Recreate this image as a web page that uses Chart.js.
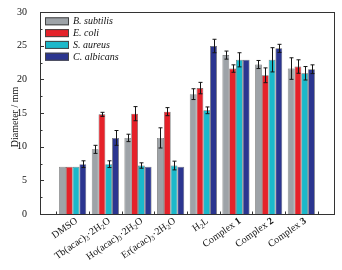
<!DOCTYPE html>
<html>
<head>
<meta charset="utf-8">
<script src="https://cdn.jsdelivr.net/npm/chart.js@4"></script>
<style>
html,body{margin:0;padding:0;background:#fff;}
#wrap{width:342px;height:270px;position:relative;}
</style>
</head>
<body>
<div id="wrap"><canvas id="c" width="342" height="270"></canvas></div>
<script>
// categories (blank entries give the extra space at both ends of the axis)
const categories = ['', 'DMSO', 'Tb(acac)\u2083\u00b72H\u2082O', 'Ho(acac)\u2083\u00b72H\u2082O', 'Er(acac)\u2083\u00b72H\u2082O', 'H\u2082L', 'Complex 1', 'Complex 2', 'Complex 3', ''];
const seriesNames = ['B. subtilis', 'E. coli', 'S. aureus', 'C. albicans'];
const bSubtilis  = [null, 7.0, 9.6, 11.3, 11.3, 17.8, 23.6, 22.2, 21.6, null];
const eColi      = [null, 7.0, 14.8, 14.9, 15.2, 18.7, 21.6, 20.6, 21.9, null];
const sAureus    = [null, 7.0, 7.4, 7.2, 7.2, 15.4, 22.9, 22.9, 20.9, null];
const cAlbicans  = [null, 7.4, 11.3, 7.0, 7.0, 24.95, 22.9, 24.6, 21.5, null];
const bSubtilisErr = [0, 0, 0.6, 0.55, 1.5, 0.8, 0.6, 0.6, 1.6, 0];
const eColiErr     = [0, 0, 0.3, 1.05, 0.6, 0.85, 0.55, 1.1, 1.0, 0];
const sAureusErr   = [0, 0, 0.5, 0.4, 0.65, 0.5, 1.05, 1.8, 1.0, 0];
const cAlbicansErr = [0, 0.5, 1.1, 0, 0, 1.0, 0, 0.6, 0.65, 0];
const yTicks = [0, 5, 10, 15, 20, 25, 30];
const yTitle = 'Diameter / mm';
const colors = ['#9ea3a8', '#e5222a', '#1bb8ca', '#2b3590'];

const values = [bSubtilis, eColi, sAureus, cAlbicans];
const errors = [bSubtilisErr, eColiErr, sAureusErr, cAlbicansErr];

const serif = "'Liberation Serif', 'DejaVu Serif', serif";
const SUB = { '\u2082': '2', '\u2083': '3' };

// split label into runs: normal / subscript / bold digit
function runs(label) {
  const out = [];
  const m = label.match(/^(Complex )(\d)$/);
  if (m) { out.push({ t: m[1], k: 'n' }); out.push({ t: m[2], k: 'b' }); return out; }
  for (const ch of label) {
    const k = SUB[ch] ? 's' : 'n';
    const t = SUB[ch] || ch;
    if (out.length && out[out.length - 1].k === k) out[out.length - 1].t += t;
    else out.push({ t, k });
  }
  return out;
}
function fontFor(k) {
  if (k === 's') return '7px ' + serif;
  if (k === 'b') return 'bold 10px ' + serif;
  return '10px ' + serif;
}

const framePlugin = {
  id: 'frame',
  afterDraw(chart) {
    const ctx = chart.ctx, a = chart.chartArea;
    const ys = chart.scales.y, xs = chart.scales.x;
    ctx.save();
    ctx.strokeStyle = '#333';
    ctx.lineWidth = 1;
    ctx.strokeRect(Math.round(a.left) + 0.5, Math.round(a.top) + 0.5, Math.round(a.right - a.left), Math.round(a.bottom - a.top));
    ctx.beginPath();
    for (let i = 0; i < yTicks.length; i++) {
      const py = Math.round(ys.getPixelForValue(yTicks[i])) + 0.5;
      ctx.moveTo(a.left, py); ctx.lineTo(a.left + 4, py);
      if (i < yTicks.length - 1) {
        const pm = Math.round(ys.getPixelForValue((yTicks[i] + yTicks[i + 1]) / 2)) + 0.5;
        ctx.moveTo(a.left, pm); ctx.lineTo(a.left + 2.5, pm);
      }
    }
    for (let i = 0; i < categories.length - 1; i++) {
      const px = Math.round((xs.getPixelForValue(i) + xs.getPixelForValue(i + 1)) / 2) + 0.5;
      ctx.moveTo(px, a.bottom); ctx.lineTo(px, a.bottom - 2.5);
    }
    ctx.stroke();

    // x category labels, rotated
    const ang = 35 * Math.PI / 180;
    ctx.fillStyle = '#111';
    ctx.textBaseline = 'middle';
    ctx.textAlign = 'left';
    categories.forEach((lab, i) => {
      if (!lab) return;
      const rs = runs(lab);
      let w = 0;
      rs.forEach(r => { ctx.font = fontFor(r.k); r.w = ctx.measureText(r.t).width; w += r.w; });
      ctx.save();
      ctx.translate(xs.getPixelForValue(i) + 4, a.bottom + 6);
      ctx.rotate(-ang);
      let x = -w;
      rs.forEach(r => {
        ctx.font = fontFor(r.k);
        ctx.fillText(r.t, x, r.k === 's' ? 2.5 : 0);
        x += r.w;
      });
      ctx.restore();
    });

    // y title
    ctx.save();
    ctx.font = '10px ' + serif;
    ctx.textAlign = 'center';
    ctx.textBaseline = 'middle';
    ctx.translate(15, (a.top + a.bottom) / 2 + 4);
    ctx.rotate(-Math.PI / 2);
    ctx.fillText(yTitle, 0, 0);
    ctx.restore();
    ctx.restore();
  }
};

const errorPlugin = {
  id: 'errbars',
  afterDatasetsDraw(chart) {
    const ctx = chart.ctx, ys = chart.scales.y;
    ctx.save();
    ctx.strokeStyle = '#151515';
    ctx.lineWidth = 1;
    chart.data.datasets.forEach((ds, di) => {
      const meta = chart.getDatasetMeta(di);
      meta.data.forEach((bar, i) => {
        const v = ds.data[i], e = errors[di][i];
        if (v == null || !e) return;
        const x = Math.round(bar.x) + 0.5;
        const yt = ys.getPixelForValue(v + e), yb = ys.getPixelForValue(v - e);
        ctx.beginPath();
        ctx.moveTo(x, yt); ctx.lineTo(x, yb);
        ctx.moveTo(x - 2, yt); ctx.lineTo(x + 2, yt);
        ctx.moveTo(x - 2, yb); ctx.lineTo(x + 2, yb);
        ctx.stroke();
      });
    });
    ctx.restore();
  }
};

const legendPlugin = {
  id: 'inlegend',
  afterDraw(chart) {
    const ctx = chart.ctx, a = chart.chartArea;
    ctx.save();
    ctx.font = 'italic 10px ' + serif;
    ctx.textBaseline = 'middle';
    chart.data.datasets.forEach((ds, i) => {
      const bx = a.left + 5, by = a.top + 5.3 + i * 11.8;
      ctx.fillStyle = ds.backgroundColor;
      ctx.fillRect(bx, by, 24, 8);
      ctx.strokeStyle = '#444';
      ctx.lineWidth = 1;
      ctx.strokeRect(bx + 0.5, by + 0.5, 23, 7);
      ctx.fillStyle = '#111';
      ctx.fillText(ds.label, bx + 28, by + 4.5);
    });
    ctx.restore();
  }
};

new Chart(document.getElementById('c'), {
  type: 'bar',
  data: {
    labels: categories,
    datasets: values.map((v, i) => ({
      label: seriesNames[i],
      data: v,
      backgroundColor: colors[i],
      borderColor: 'rgba(50,50,50,0.75)',
      borderWidth: 0.7,
      categoryPercentage: 0.83,
      barPercentage: 1.0
    }))
  },
  options: {
    responsive: false,
    animation: false,
    devicePixelRatio: 1,
    layout: { padding: { top: 12, right: 8, left: 0, bottom: 0 } },
    plugins: { legend: { display: false }, tooltip: { enabled: false } },
    scales: {
      x: {
        type: 'category',
        offset: false,
        grid: { display: false },
        border: { display: false },
        ticks: { display: false },
        afterFit(s) { s.height = 56; }
      },
      y: {
        min: 0, max: 30,
        grid: { display: false },
        border: { display: false },
        ticks: { stepSize: 5, padding: 5, color: '#111', font: { family: serif, size: 10 } },
        afterFit(s) { s.width = 40; }
      }
    }
  },
  plugins: [errorPlugin, framePlugin, legendPlugin]
});
</script>
</body>
</html>
